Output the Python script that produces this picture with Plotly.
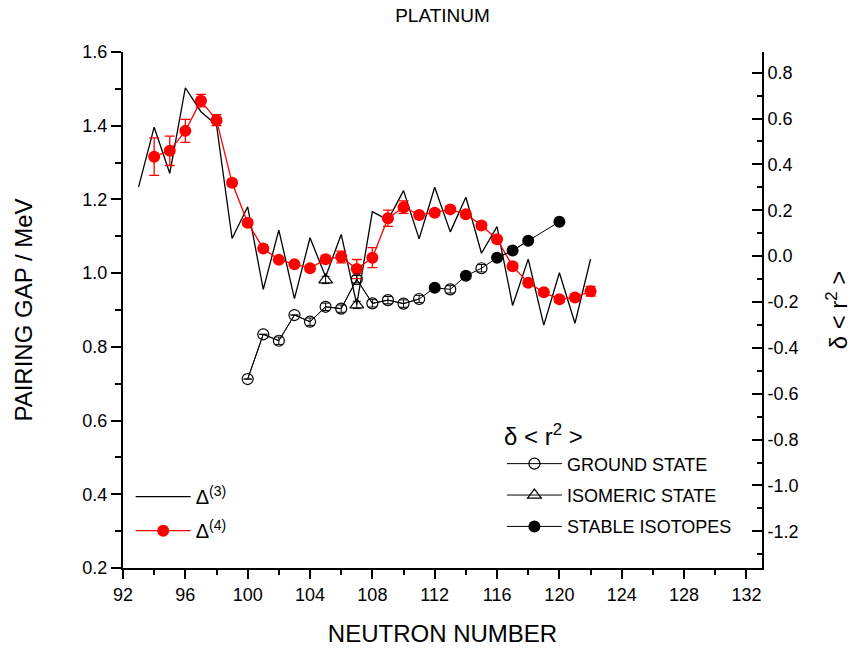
import plotly.graph_objects as go

# ---------------- data ----------------
# Delta(3) pairing gap (MeV), left axis
N3 = list(range(93, 123))
D3 = [1.234, 1.396, 1.271, 1.503, 1.438, 1.402, 1.094, 1.180, 0.956, 1.117,
      0.931, 1.096, 0.990, 1.105, 0.915, 1.167, 1.144, 1.224, 1.093, 1.233,
      1.112, 1.206, 1.054, 1.126, 0.912, 1.038, 0.859, 1.001, 0.864, 1.038]

# Delta(4) pairing gap (MeV) with errors, left axis
N4 = list(range(94, 123))
D4 = [1.316, 1.332, 1.386, 1.468, 1.415, 1.245, 1.137, 1.067, 1.036, 1.024,
      1.013, 1.038, 1.044, 1.011, 1.042, 1.149, 1.179, 1.158, 1.164, 1.173,
      1.160, 1.129, 1.092, 1.019, 0.974, 0.948, 0.929, 0.934, 0.951]
E4 = [0.051, 0.040, 0.031, 0.017, 0.015, 0.008, 0.008, 0.005, 0.005, 0.005,
      0.008, 0.010, 0.016, 0.026, 0.027, 0.022, 0.017, 0.008, 0.008, 0.008,
      0.008, 0.008, 0.008, 0.008, 0.008, 0.008, 0.008, 0.008, 0.013]

# delta <r^2> (right axis)
NG = [100, 101, 102, 103, 104, 105, 106, 107, 108, 109, 110, 111, 113, 115]
RG = [-0.536, -0.341, -0.369, -0.257, -0.286, -0.221, -0.229, -0.101,
      -0.206, -0.192, -0.207, -0.187, -0.145, -0.053]
EG = [0.0, 0.0, 0.016, 0.0, 0.016, 0.016, 0.016, 0.016, 0.016, 0.016,
      0.016, 0.016, 0.016, 0.016]

NI = [105, 107]
RI = [-0.104, -0.213]
EI = [0.016, 0.016]

NS = [112, 114, 116, 117, 118, 120]
RS = [-0.138, -0.086, -0.007, 0.024, 0.067, 0.150]

X_TICKS = list(range(92, 133, 4))
Y_TICKS = [0.2, 0.4, 0.6, 0.8, 1.0, 1.2, 1.4, 1.6]
R_TICKS = [-1.2, -1.0, -0.8, -0.6, -0.4, -0.2, 0.0, 0.2, 0.4, 0.6, 0.8]
R_LABELS = ["-1.2", "-1.0", "-0.8", "-0.6", "-0.4", "-0.2", "0.0",
            "0.2", "0.4", "0.6", "0.8"]


def with_gaps(xs, *cols):
    """Insert None where consecutive neutron numbers are not adjacent."""
    ox = []
    oc = [[] for _ in cols]
    for i, x in enumerate(xs):
        if i > 0 and x - xs[i - 1] > 1:
            ox.append(None)
            for o in oc:
                o.append(None)
        ox.append(x)
        for o, c in zip(oc, cols):
            o.append(c[i])
    return [ox] + oc


FONT = "Liberation Sans, Arial, sans-serif"

fig = go.Figure()

# Delta(3)
fig.add_trace(go.Scatter(
    x=N3, y=D3, mode="lines", name="Δ<sup>(3)</sup>",
    line=dict(color="black", width=1.3), legend="legend", legendgroup="a"))

# Delta(4)
fig.add_trace(go.Scatter(
    x=N4, y=D4, mode="lines+markers", name="Δ<sup>(4)</sup>",
    line=dict(color="red", width=1.3),
    marker=dict(color="red", size=12, symbol="circle"),
    error_y=dict(type="data", array=E4, color="red", thickness=1.3, width=5),
    legend="legend", legendgroup="b"))

# connecting line through all ground/stable points (in N order)
comb = sorted(list(zip(NG, RG)) + list(zip(NS, RS)))
fig.add_trace(go.Scatter(
    x=[c[0] for c in comb], y=[c[1] for c in comb], mode="lines",
    line=dict(color="black", width=1), yaxis="y2", showlegend=False,
    hoverinfo="skip"))

gx, gy, ge = with_gaps(NG, RG, EG)
fig.add_trace(go.Scatter(
    x=gx, y=gy, mode="lines+markers", name="GROUND STATE",
    line=dict(color="black", width=1),
    marker=dict(symbol="circle-open", size=11, color="black",
                line=dict(width=1.2, color="black")),
    error_y=dict(type="data", array=ge, color="black", thickness=1, width=4),
    yaxis="y2", legend="legend2", legendgroup="c"))

ix, iy, ie = with_gaps(NI, RI, EI)
fig.add_trace(go.Scatter(
    x=ix, y=iy, mode="lines+markers", name="ISOMERIC STATE",
    line=dict(color="black", width=1),
    marker=dict(symbol="triangle-up-open", size=12, color="black",
                line=dict(width=1.2, color="black")),
    error_y=dict(type="data", array=ie, color="black", thickness=1, width=4),
    yaxis="y2", legend="legend2", legendgroup="d"))

sx, sy = with_gaps(NS, RS)
fig.add_trace(go.Scatter(
    x=sx, y=sy, mode="lines+markers", name="STABLE ISOTOPES",
    line=dict(color="black", width=1),
    marker=dict(symbol="circle", size=12, color="black"),
    yaxis="y2", legend="legend2", legendgroup="e"))

axis_common = dict(showgrid=False, zeroline=False, showline=True,
                   linecolor="black", linewidth=2, tickcolor="black",
                   tickwidth=1.5, automargin=False)

W, H = 853, 648
fig.update_layout(
    width=W, height=H,
    margin=dict(l=123, r=91, t=52, b=80),
    paper_bgcolor="white", plot_bgcolor="white",
    font=dict(family=FONT, color="black", size=18),
    title=dict(text="PLATINUM", x=0.5, xref="paper", xanchor="center",
               y=1 - 15 / H, yref="container", yanchor="middle",
               font=dict(size=19, family=FONT, color="black")),
    xaxis=dict(range=[92, 133], tickmode="array", tickvals=X_TICKS,
               ticks="outside", ticklen=9,
               minor=dict(tickmode="linear", tick0=92, dtick=2, ticks="outside",
                          ticklen=5, tickcolor="black", tickwidth=1.5),
               tickfont=dict(size=18),
               title=dict(text="NEUTRON NUMBER", font=dict(size=24),
                          standoff=22),
               **axis_common),
    xaxis2=dict(range=[92, 133], overlaying="x", side="top",
                tickmode="linear", tick0=92, dtick=2, ticks="inside",
                ticklen=7, showticklabels=False, **axis_common),
    yaxis=dict(range=[0.2, 1.6], tickmode="array", tickvals=Y_TICKS,
               tickformat=".1f", ticks="outside", ticklen=10,
               minor=dict(tickmode="linear", tick0=0.2, dtick=0.1,
                          ticks="outside", ticklen=6, tickcolor="black",
                          tickwidth=1.5),
               tickfont=dict(size=18),
               title=dict(text="PAIRING GAP / MeV", font=dict(size=24),
                          standoff=43),
               **axis_common),
    yaxis2=dict(range=[-1.36, 0.89], overlaying="y", side="right",
                tickmode="array", tickvals=R_TICKS, ticktext=R_LABELS,
                ticks="inside", ticklen=10,
                minor=dict(tickmode="linear", tick0=0, dtick=0.1,
                           ticks="inside", ticklen=5, tickcolor="black",
                           tickwidth=1.5),
                tickfont=dict(size=18),
                title=dict(text="δ < r<sup>2</sup> >", font=dict(size=24),
                           standoff=33),
                **axis_common),
    legend=dict(x=0.012, y=0.176, xanchor="left", yanchor="top",
                bgcolor="rgba(0,0,0,0)", font=dict(size=20),
                itemwidth=55, tracegroupgap=5),
    legend2=dict(x=0.593, y=0.298, xanchor="left", yanchor="top",
                 bgcolor="rgba(0,0,0,0)", font=dict(size=18),
                 itemwidth=55, tracegroupgap=5,
                 title=dict(text="δ < r<sup>2</sup> >", font=dict(size=24))),
)

# remove the default 8px page margin so the figure fills the window exactly
fig.write_html("out.html", config={"displayModeBar": False},
               post_script="document.body.style.margin='0';")
